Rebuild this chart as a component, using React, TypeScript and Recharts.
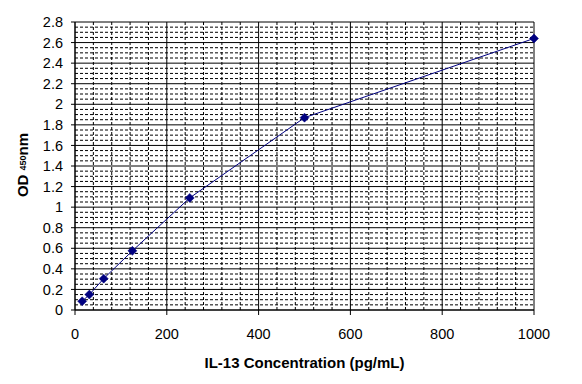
import React from 'react';
import { LineChart, Line, XAxis, YAxis, CartesianGrid, Label } from 'recharts';

const concentrations = [15.6, 31.25, 62.5, 125, 250, 500, 1000];
const odValues = [0.085, 0.15, 0.305, 0.575, 1.09, 1.87, 2.64];

const xTicks = [0, 200, 400, 600, 800, 1000];
const yTicks = [0, 0.2, 0.4, 0.6, 0.8, 1, 1.2, 1.4, 1.6, 1.8, 2, 2.2, 2.4, 2.6, 2.8];
const xMinor = [40, 80, 120, 160, 240, 280, 320, 360, 440, 480, 520, 560, 640, 680, 720, 760, 840, 880, 920, 960];
const yMinor = [0.05, 0.1, 0.15, 0.25, 0.3, 0.35, 0.45, 0.5, 0.55, 0.65, 0.7, 0.75, 0.85, 0.9, 0.95, 1.05, 1.1, 1.15, 1.25, 1.3, 1.35, 1.45, 1.5, 1.55, 1.65, 1.7, 1.75, 1.85, 1.9, 1.95, 2.05, 2.1, 2.15, 2.25, 2.3, 2.35, 2.45, 2.5, 2.55, 2.65, 2.7, 2.75];

const data = concentrations.map((c, i) => ({ conc: c, od: odValues[i] }));

const FONT = '"Liberation Sans", Arial, sans-serif';

const Diamond = (props: any) => {
  const { cx, cy } = props;
  if (cx == null || cy == null) return null;
  const r = 4.5;
  return (
    <polygon
      points={`${cx},${cy - r} ${cx + r},${cy} ${cx},${cy + r} ${cx - r},${cy}`}
      fill="#000080"
      stroke="#000080"
      strokeWidth={0.5}
    />
  );
};

const YLabel = () => (
  <text
    transform="translate(28,165) rotate(-90)"
    textAnchor="middle"
    fontFamily={FONT}
    fontWeight="bold"
    fontSize={15}
    fill="#000"
  >
    <tspan>OD </tspan>
    <tspan fontSize={9} dy={-2}>450</tspan>
    <tspan dy={2}>nm</tspan>
  </text>
);

export default function App() {
  return (
    <div style={{ position: 'absolute', left: 0, top: 0, width: 582, height: 384, background: '#fff' }}>
      <LineChart
        width={582}
        height={384}
        data={data}
        margin={{ top: 22, right: 48, bottom: 44, left: 0 }}
      >
        <CartesianGrid
          horizontalValues={yMinor}
          verticalValues={xMinor}
          stroke="#000"
          strokeDasharray="3 2"
          strokeWidth={1}
        />
        <CartesianGrid
          horizontalValues={yTicks}
          verticalValues={xTicks}
          stroke="#000"
          strokeWidth={1}
        />
        <XAxis
          dataKey="conc"
          type="number"
          domain={[0, 1000]}
          ticks={xTicks}
          height={30}
          tickSize={5}
          tickMargin={14}
          axisLine={{ stroke: '#000' }}
          tickLine={{ stroke: '#000' }}
          tick={{ fill: '#000', fontSize: 14.5, fontFamily: FONT }}
          interval={0}
        >
          <Label
            value="IL-13 Concentration (pg/mL)"
            position="bottom"
            offset={17}
            style={{ fill: '#000', fontSize: 15, fontWeight: 'bold', fontFamily: FONT }}
          />
        </XAxis>
        <YAxis
          type="number"
          domain={[0, 2.8]}
          ticks={yTicks}
          width={75}
          tickSize={4}
          tickMargin={8}
          axisLine={{ stroke: '#000' }}
          tickLine={{ stroke: '#000' }}
          tick={{ fill: '#000', fontSize: 14.5, fontFamily: FONT }}
          interval={0}
          label={{ content: () => <YLabel /> }}
        />
        <Line
          type="linear"
          dataKey="od"
          stroke="#000080"
          strokeWidth={1}
          dot={<Diamond />}
          activeDot={false}
          isAnimationActive={false}
        />
      </LineChart>
    </div>
  );
}
